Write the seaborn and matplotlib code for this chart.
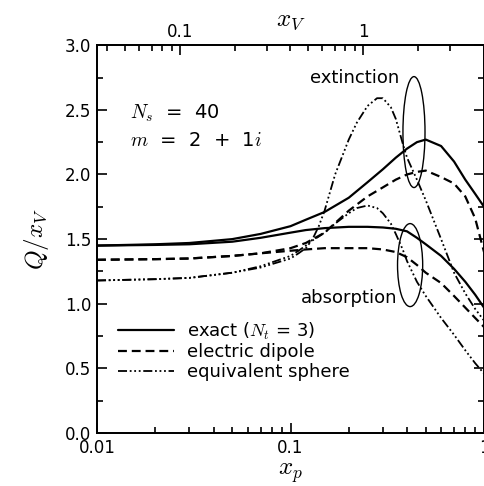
import numpy as np
import pandas as pd
import matplotlib
matplotlib.use("Agg")
import matplotlib.pyplot as plt
from matplotlib.patches import Ellipse
from matplotlib.ticker import FixedLocator, NullFormatter, MultipleLocator, FixedFormatter
import seaborn as sns

# ---- data ----
x_p = [0.01, 0.02, 0.03, 0.05, 0.07, 0.1, 0.12, 0.15, 0.2, 0.25, 0.3, 0.35,
       0.4, 0.45, 0.5, 0.6, 0.7, 0.8, 0.9, 1.0]

exact_ext = [1.45, 1.46, 1.47, 1.50, 1.54, 1.60, 1.65, 1.71, 1.82, 1.94, 2.04, 2.13,
             2.20, 2.25, 2.27, 2.22, 2.10, 1.96, 1.85, 1.75]
exact_abs = [1.45, 1.455, 1.46, 1.48, 1.51, 1.55, 1.57, 1.585, 1.595, 1.595, 1.59, 1.58,
             1.56, 1.51, 1.46, 1.37, 1.27, 1.17, 1.07, 0.97]
dipole_ext = [1.34, 1.345, 1.35, 1.37, 1.39, 1.43, 1.47, 1.55, 1.72, 1.83, 1.90, 1.96,
              2.00, 2.02, 2.03, 1.98, 1.93, 1.83, 1.66, 1.40]
dipole_abs = [1.34, 1.345, 1.35, 1.37, 1.39, 1.41, 1.42, 1.43, 1.43, 1.43, 1.42, 1.40,
              1.36, 1.30, 1.24, 1.16, 1.06, 0.97, 0.89, 0.82]

x_sphere = [0.01, 0.02, 0.03, 0.05, 0.07, 0.1, 0.11, 0.12, 0.13, 0.14, 0.15, 0.17,
            0.2, 0.22, 0.25, 0.28, 0.3, 0.33, 0.35, 0.38, 0.4, 0.45, 0.5, 0.6,
            0.7, 0.8, 0.9, 1.0]
sphere_ext = [1.18, 1.19, 1.20, 1.24, 1.28, 1.35, 1.39, 1.43, 1.50, 1.60, 1.72, 2.00,
              2.27, 2.40, 2.53, 2.59, 2.59, 2.52, 2.43, 2.24, 2.13, 1.96, 1.80, 1.50,
              1.24, 1.08, 0.96, 0.87]
sphere_abs = [1.18, 1.19, 1.20, 1.24, 1.29, 1.37, 1.41, 1.45, 1.49, 1.52, 1.55, 1.62,
              1.70, 1.74, 1.76, 1.74, 1.70, 1.62, 1.54, 1.42, 1.33, 1.17, 1.06, 0.89,
              0.76, 0.64, 0.54, 0.46]

legend_labels = [r"exact ($N_t$ = 3)", "electric dipole", "equivalent sphere"]
y_ticks = [0.0, 0.5, 1.0, 1.5, 2.0, 2.5, 3.0]
xp_ticks = [0.01, 0.1, 1.0]
xp_tick_labels = ["0.01", "0.1", "1"]
xv_ticks = [0.1, 1.0]
xv_tick_labels = ["0.1", "1"]
xv_minor = [0.04, 0.05, 0.06, 0.07, 0.08, 0.09, 0.2, 0.3, 0.4, 0.5, 0.6, 0.7,
            0.8, 0.9, 2.0, 3.0]

# ---- style ----
sns.set_style("ticks")
plt.rcParams["font.family"] = ["DejaVu Sans"]
plt.rcParams["mathtext.fontset"] = "cm"
for k in ["text.color", "axes.labelcolor", "xtick.color", "ytick.color",
          "axes.edgecolor"]:
    plt.rcParams[k] = "black"

fig = plt.figure(figsize=(4.85, 4.86), dpi=100)
ax = fig.add_axes([0.2, 0.109, 0.798, 0.798])

solid = (None, None)
dashed = (4.0, 2.2)
dashdot = (5.0, 1.5, 1.0, 1.5, 1.0, 1.5, 1.0, 1.5)

series = [
    (x_p, exact_ext, "exact", solid, 1.6),
    (x_p, exact_abs, "exact", solid, 1.6),
    (x_p, dipole_ext, "dipole", dashed, 1.6),
    (x_p, dipole_abs, "dipole", dashed, 1.6),
    (x_sphere, sphere_ext, "sphere", dashdot, 1.3),
    (x_sphere, sphere_abs, "sphere", dashdot, 1.3),
]
handles = {}
for xv, yv, key, dash, lw in series:
    df = pd.DataFrame({"x": xv, "y": yv})
    sns.lineplot(data=df, x="x", y="y", ax=ax, color="black", lw=lw,
                 estimator=None, sort=False)
    line = ax.lines[-1]
    if dash[0] is not None:
        line.set_dashes(dash)
    handles.setdefault(key, line)

ax.set_xscale("log")
ax.set_xlim(0.01, 1.0)
ax.set_ylim(0, 3.0)
ax.xaxis.set_major_locator(FixedLocator(xp_ticks))
ax.xaxis.set_major_formatter(FixedFormatter(xp_tick_labels))
ax.xaxis.set_minor_formatter(NullFormatter())
ax.yaxis.set_major_locator(FixedLocator(y_ticks))
ax.yaxis.set_minor_locator(MultipleLocator(0.25))
ax.set_yticklabels([f"{v:.1f}" for v in y_ticks])
ax.tick_params(which="both", direction="in", right=True, top=False,
               labelsize=12, width=1.2, pad=4, colors="black")
ax.tick_params(which="major", length=7)
ax.tick_params(which="minor", length=4)
for s in ax.spines.values():
    s.set_linewidth(1.3)
    s.set_visible(True)
    s.set_color("black")

ax.set_xlabel(r"$x_p$", fontsize=18, labelpad=3)
ax.set_ylabel(r"$Q/x_V$", fontsize=18, labelpad=10)

# top axis x_V
axt = ax.twiny()
axt.set_xscale("log")
axt.set_xlim(0.0352, 4.58)
axt.xaxis.set_major_locator(FixedLocator(xv_ticks))
axt.xaxis.set_major_formatter(FixedFormatter(xv_tick_labels))
axt.xaxis.set_minor_locator(FixedLocator(xv_minor))
axt.xaxis.set_minor_formatter(NullFormatter())
axt.tick_params(which="both", direction="in", labelsize=12, width=1.2, pad=3,
                colors="black")
axt.tick_params(which="major", length=7)
axt.tick_params(which="minor", length=4)
axt.set_xlabel(r"$x_V$", fontsize=18, labelpad=-2)
for s in axt.spines.values():
    s.set_linewidth(1.3)
    s.set_color("black")

# ellipses
ax.add_patch(Ellipse((0.819, 0.776), 0.057, 0.286, transform=ax.transAxes,
                     fill=False, ec="black", lw=1.0))
ax.add_patch(Ellipse((0.809, 0.433), 0.065, 0.214, transform=ax.transAxes,
                     fill=False, ec="black", lw=1.0))

ax.text(0.782, 0.916, "extinction", transform=ax.transAxes, ha="right",
        va="center", fontsize=13)
ax.text(0.776, 0.348, "absorption", transform=ax.transAxes, ha="right",
        va="center", fontsize=13)
ax.text(0.085, 0.825, r"$N_s$  =  40", transform=ax.transAxes, ha="left",
        va="center", fontsize=14)
ax.text(0.085, 0.755, r"$m$  =  2  +  1$i$", transform=ax.transAxes, ha="left",
        va="center", fontsize=14)

leg = ax.legend([handles["exact"], handles["dipole"], handles["sphere"]],
                legend_labels, loc="upper left", bbox_to_anchor=(0.054, 0.29),
                frameon=False, fontsize=13, handlelength=3.1, handletextpad=0.75,
                labelspacing=0.1, borderpad=0, borderaxespad=0)

fig.savefig("out.png", dpi=100)
